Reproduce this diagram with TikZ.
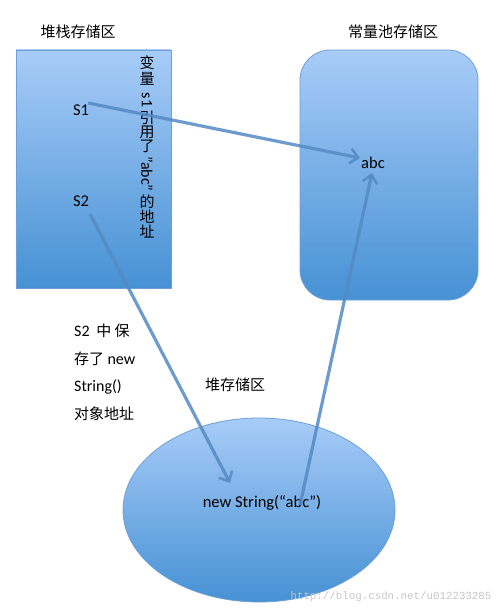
\documentclass[tikz,border=0pt]{standalone}
\usepackage{fontspec}
\setmainfont{Carlito}
\newfontfamily\cjk{Noto Sans CJK SC}
\newfontfamily\wmfont{Liberation Mono}
\usetikzlibrary{shapes.geometric,arrows.meta}
\definecolor{topblue}{RGB}{168,204,248}
\definecolor{botblue}{RGB}{70,145,212}
\definecolor{edgeblue}{RGB}{110,160,215}
\definecolor{arrowblue}{RGB}{85,138,196}
\tikzset{
  region/.style={draw=edgeblue, line width=0.8pt, top color=topblue, bottom color=botblue, inner sep=0pt},
  title/.style={font=\cjk\fontsize{15}{17}\selectfont, inner sep=0pt},
  lbl/.style={font=\fontsize{16.5}{18}\selectfont, inner sep=0pt},
  vch/.style={font=\cjk\fontsize{15}{17}\selectfont, inner sep=0pt},
  vlat/.style={font=\fontsize{16}{18}\selectfont, inner sep=0pt, rotate=-90},
  ref/.style={draw=arrowblue, line width=3.2pt, draw opacity=0.85, -{Straight Barb[length=8pt,width=15pt,line width=2.6pt]}},
}
\begin{document}
\begin{tikzpicture}[x=1pt,y=-1pt]
\useasboundingbox (0,0) rectangle (500,610);
% titles
\node[title] (t1) at (78,32) {堆栈存储区};
\node[title] (t2) at (393,32) {常量池存储区};
% regions
\node[region, rectangle, minimum width=155pt, minimum height=238pt] (stack) at (93.5,169) {};
\node[region, rectangle, rounded corners=30pt, minimum width=178pt, minimum height=250pt] (pool) at (389,175) {};
\node[region, ellipse, minimum width=272pt, minimum height=184pt] (heap) at (259,510) {};
% labels
\node[lbl] (s1) at (81,110) {S1};
\node[lbl] (s2) at (81,201) {S2};
\node[lbl] (abc) at (373,163) {abc};
\node[title] (heapt) at (235,385) {堆存储区};
\node[lbl] (newstr) at (262,503) {new String(“abc”)};
% vertical text
\node[vch] (v1) at (147,63) {变};
\node[vch] (v2) at (147,79) {量};
\node[vlat] (v3) at (147,100) {s1};
\node[vch] (v4) at (147,118) {引};
\node[vch] (v5) at (147,132) {用};
\node[vch] (v6) at (147,146) {了};
\node[vlat] (v7) at (147,174) {”abc”};
\node[vch] (v8) at (147,202) {的};
\node[vch] (v9) at (147,217) {地};
\node[vch] (v10) at (147,232) {址};
% side note
\node[font=\cjk\fontsize{15}{27.5}\selectfont, inner sep=0pt, anchor=north west, align=left] (note) at (74,324) {%
  {\fontspec{Carlito}\fontsize{16}{27.5}\selectfont S2}\ \ 中\ 保\\
  存了 {\fontspec{Carlito}\fontsize{16}{27.5}\selectfont new}\\
  {\fontspec{Carlito}\fontsize{16}{27.5}\selectfont String()}\\
  对象地址};
% watermark
\node[font=\wmfont\fontsize{10.8}{12}\selectfont, text=gray!45, inner sep=0pt] (wm) at (391,597) {http://blog.csdn.net/u012233285};
% connectors
\coordinate (s1out) at (88,103);
\coordinate (s2out) at (90,214);
\coordinate (heapin) at (230,483);
\coordinate (heapout) at (300,505);
\coordinate (abcl) at (360,158);
\coordinate (abcb) at (372,173);
\draw[ref] (s1out) -- (abcl);
\draw[ref] (s2out) -- (heapin);
\draw[ref] (heapout) -- (abcb);
\end{tikzpicture}
\end{document}
